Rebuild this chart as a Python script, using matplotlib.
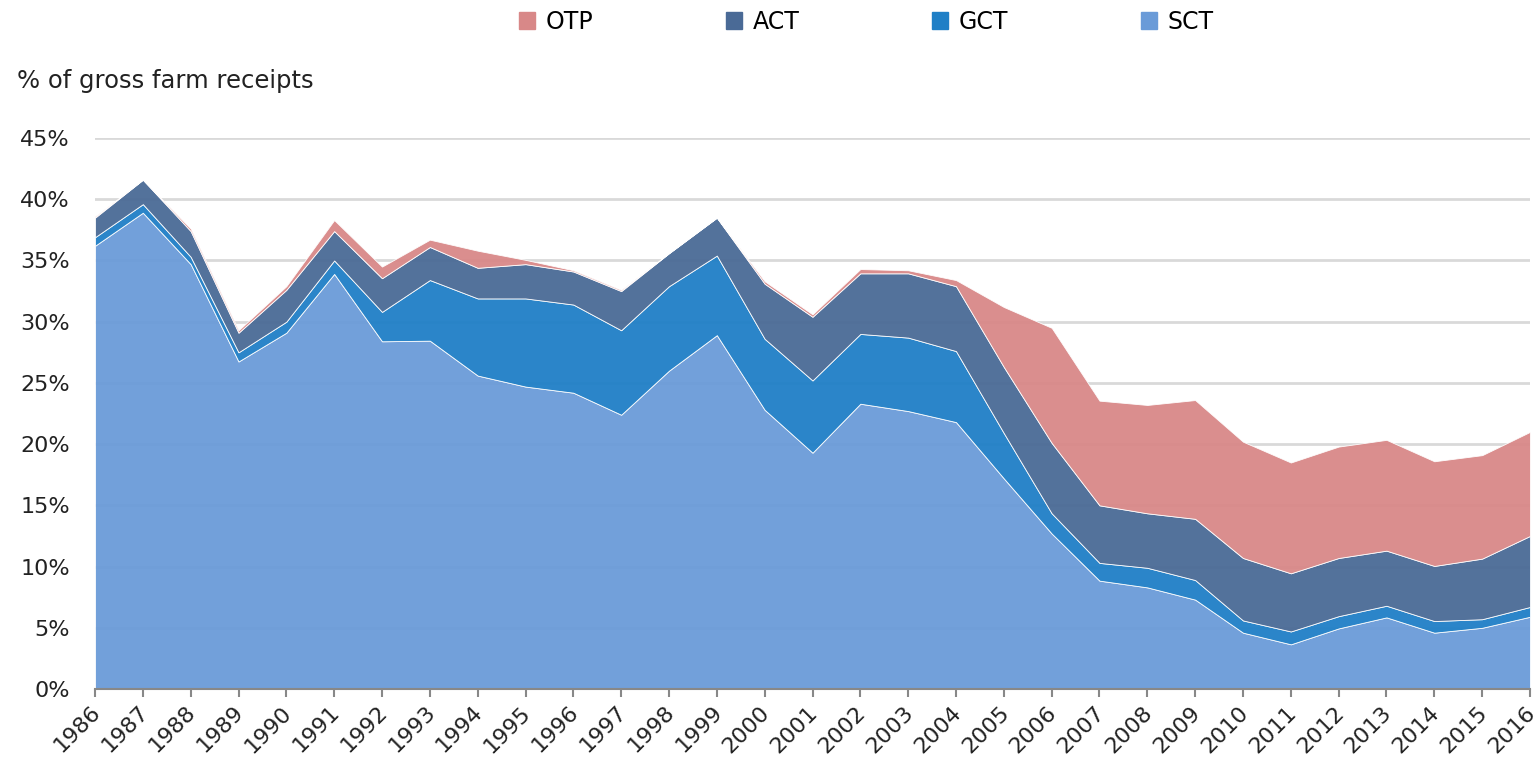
import matplotlib
matplotlib.use('Agg')
import matplotlib.pyplot as plt
import matplotlib.transforms as mtransforms
from matplotlib.patches import Patch

plt.rcParams['font.family'] = ['DejaVu Sans']
plt.rcParams['font.size'] = 16

# Data (% of gross farm receipts)
years = list(range(1986, 2017))
sct = [36.2, 38.9, 34.7, 26.75, 29.1, 33.9, 28.4, 28.45, 25.6, 24.7, 24.2, 22.4, 26.0, 28.9,
       22.8, 19.3, 23.3, 22.7, 21.8, 17.2, 12.7, 8.85, 8.3, 7.3, 4.6, 3.65, 4.95, 5.85, 4.6, 5.0, 5.9]
gct = [0.7, 0.7, 0.6, 0.75, 0.9, 1.1, 2.4, 4.95, 6.3, 7.2, 7.2, 6.9, 6.9, 6.5,
       5.8, 5.9, 5.7, 6.0, 5.8, 3.7, 1.65, 1.45, 1.6, 1.6, 1.0, 1.05, 1.0, 0.95, 0.95, 0.7, 0.8]
act = [1.6, 2.0, 2.1, 1.6, 2.6, 2.4, 2.75, 2.7, 2.5, 2.8, 2.7, 3.2, 2.7, 3.1,
       4.5, 5.2, 4.95, 5.25, 5.3, 5.4, 5.75, 4.7, 4.45, 5.0, 5.1, 4.75, 4.75, 4.5, 4.5, 4.95, 5.8]
otp = [0.1, 0.0, 0.2, 0.2, 0.3, 0.9, 0.95, 0.6, 1.4, 0.35, 0.1, 0.1, 0.0, 0.0,
       0.2, 0.2, 0.35, 0.25, 0.5, 4.9, 9.4, 8.55, 8.85, 9.7, 9.5, 9.05, 9.1, 9.05, 8.55, 8.45, 8.5]

labels = ['SCT', 'GCT', 'ACT', 'OTP']
colors = ['#6a9bd8', '#1f7fc6', '#4a6a96', '#d88888']

fig = plt.figure(figsize=(15.4, 7.72), dpi=100)
ax = fig.add_axes([0.0617, 0.1075, 0.9318, 0.7137])

ax.stackplot(years, sct, gct, act, otp, colors=colors, alpha=0.95,
             edgecolor='white', linewidth=0.6, zorder=2)

ax.set_xlim(1986, 2016)
ax.set_ylim(0, 45)
ax.set_yticks(range(0, 46, 5))
ax.set_yticklabels([f'{v}%' for v in range(0, 46, 5)], color='#222222')
ax.yaxis.grid(True, color='#d9d9d9', linewidth=2, zorder=0)
ax.set_axisbelow(True)
ax.tick_params(axis='y', length=0, pad=18)

ax.set_xticks(years)
ax.set_xticklabels([str(y) for y in years], rotation=45, ha='right',
                   rotation_mode='anchor', color='#222222')
ax.tick_params(axis='x', length=6, width=1.5, color='#888888', direction='out')
shift = mtransforms.ScaledTranslation(-5 / 100, 0, fig.dpi_scale_trans)
for lab in ax.get_xticklabels():
    lab.set_transform(lab.get_transform() + shift)

for s in ['top', 'right', 'left']:
    ax.spines[s].set_visible(False)
ax.spines['bottom'].set_color('#888888')
ax.spines['bottom'].set_linewidth(1.5)

fig.text(0.011, 0.895, '% of gross farm receipts', fontsize=17.5, color='#222222', va='center')

handles = [Patch(color=colors[3], label='OTP'), Patch(color=colors[2], label='ACT'),
           Patch(color=colors[1], label='GCT'), Patch(color=colors[0], label='SCT')]
fig.legend(handles=handles, loc='center', bbox_to_anchor=(0.5625, 0.972), ncol=4,
           frameon=False, fontsize=17, handlelength=0.7, handleheight=0.7,
           handletextpad=0.45, columnspacing=5.6)

fig.savefig('out.png', dpi=100)
